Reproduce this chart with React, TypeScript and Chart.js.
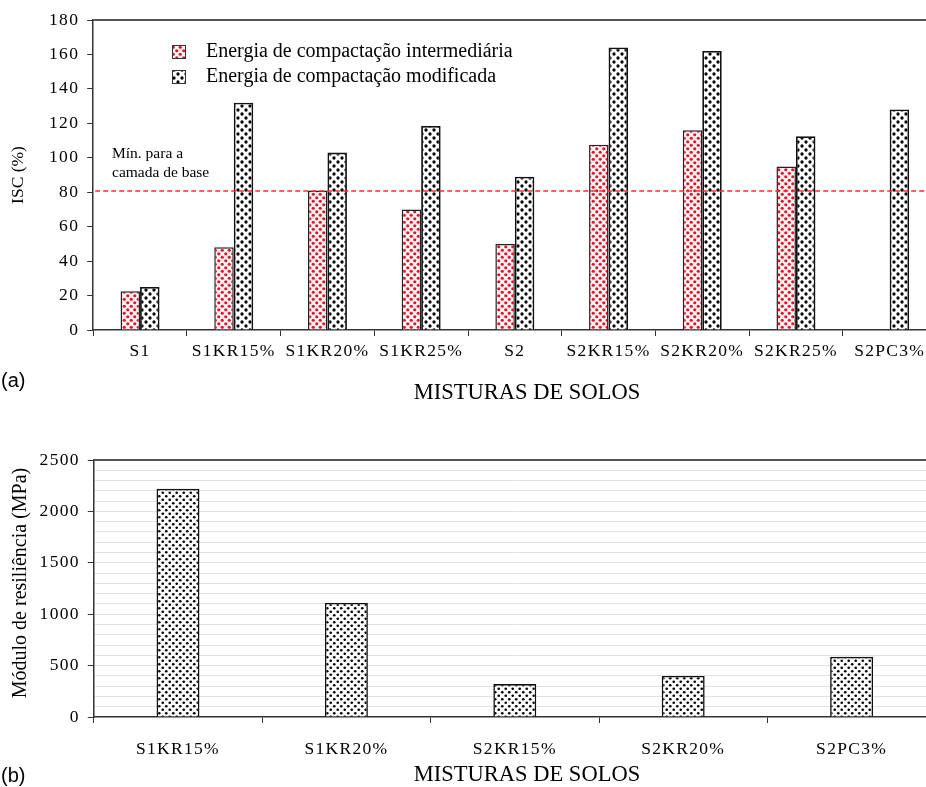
import React, { useEffect, useRef } from 'react';
import { Chart, registerables } from 'chart.js';

Chart.register(...registerables);

// ---------- Data ----------
const categoriesA = ['S1', 'S1KR15%', 'S1KR20%', 'S1KR25%', 'S2', 'S2KR15%', 'S2KR20%', 'S2KR25%', 'S2PC3%'];
const intermediaria: (number | null)[] = [22.5, 48, 81, 70, 50, 107.5, 116, 95, null];
const modificada: number[] = [25, 132, 103, 118.5, 89, 164, 162, 112.5, 128];
const seriesNamesA = ['Energia de compactação intermediária', 'Energia de compactação modificada'];
const minimoBase = 81;
const minimoLabel = ['Mín. para a', 'camada de base'];
const yTitleA = 'ISC (%)';
const xTitle = 'MISTURAS DE SOLOS';
const yMaxA = 180;
const yStepA = 20;

const categoriesB = ['S1KR15%', 'S1KR20%', 'S2KR15%', 'S2KR20%', 'S2PC3%'];
const moduloResiliencia: number[] = [2220, 1110, 320, 400, 585];
const yTitleB = 'Módulo de resiliência (MPa)';
const yMaxB = 2500;
const yGridStepB = 100;
const yLabelStepB = 500;

const SERIF = '"Liberation Serif", "Times New Roman", serif';
const SANS = '"Liberation Sans", Arial, sans-serif';

function makePattern(size: number, bg: string, dot: string, r: number, pts: number[][]) {
  const c = document.createElement('canvas');
  c.width = size;
  c.height = size;
  const g = c.getContext('2d')!;
  g.fillStyle = bg;
  g.fillRect(0, 0, size, size);
  g.fillStyle = dot;
  for (const [x, y] of pts) {
    for (const dx of [-size, 0, size]) {
      for (const dy of [-size, 0, size]) {
        g.beginPath();
        g.arc(x + dx, y + dy, r, 0, Math.PI * 2);
        g.fill();
      }
    }
  }
  return g.createPattern(c, 'repeat') as CanvasPattern;
}

const spacingPlugin = {
  id: 'spacing',
  beforeDraw(chart: any) {
    (chart.ctx as any).letterSpacing = '1.3px';
  },
};

function TopChart() {
  const ref = useRef<HTMLCanvasElement>(null);
  useEffect(() => {
    const redPat = makePattern(7, '#fff2f2', '#e3142a', 1.6, [[1.75, 1.75], [5.25, 5.25]]);
    const blackPat = makePattern(8, '#ffffff', '#050505', 1.65, [[2, 2], [6, 6]]);
    const pats = [redPat, blackPat];

    const overlay = {
      id: 'overlayA',
      afterDraw(chart: any) {
        const ctx = chart.ctx as CanvasRenderingContext2D;
        const area = chart.chartArea;
        const y = chart.scales.y;
        ctx.save();
        (ctx as any).letterSpacing = '0px';
        // top frame line
        ctx.strokeStyle = '#555';
        ctx.lineWidth = 2;
        ctx.beginPath();
        ctx.moveTo(area.left, area.top);
        ctx.lineTo(chart.width, area.top);
        ctx.stroke();
        // dashed min line
        const yy = Math.round(y.getPixelForValue(minimoBase));
        ctx.strokeStyle = '#ff2a2a';
        ctx.lineWidth = 1.5;
        ctx.setLineDash([5, 3]);
        ctx.beginPath();
        ctx.moveTo(area.left + 2, yy);
        ctx.lineTo(chart.width, yy);
        ctx.stroke();
        ctx.setLineDash([]);
        // min label
        ctx.fillStyle = '#000';
        ctx.font = `15.5px ${SERIF}`;
        ctx.textAlign = 'left';
        ctx.textBaseline = 'middle';
        ctx.fillText(minimoLabel[0], 112, 154);
        ctx.fillText(minimoLabel[1], 112, 173);
        // legend
        ctx.font = `20px ${SERIF}`;
        seriesNamesA.forEach((name, i) => {
          const cy = 52 + i * 25;
          ctx.fillStyle = pats[i];
          ctx.fillRect(172, cy - 7, 14, 14);
          ctx.strokeStyle = '#333';
          ctx.lineWidth = 1;
          ctx.strokeRect(172.5, cy - 6.5, 13, 13);
          ctx.fillStyle = '#000';
          ctx.fillText(name, 206, cy);
        });
        // axis titles
        ctx.font = `22.5px ${SERIF}`;
        ctx.textAlign = 'center';
        ctx.fillText(xTitle, 527, 393);
        ctx.save();
        ctx.translate(18, 175);
        ctx.rotate(-Math.PI / 2);
        ctx.font = `17.5px ${SERIF}`;
        ctx.fillText(yTitleA, 0, 0);
        ctx.restore();
        ctx.font = `20px ${SANS}`;
        ctx.textAlign = 'left';
        ctx.fillText('(a)', 1, 381);
        ctx.restore();
      },
    };

    const chart = new Chart(ref.current!, {
      type: 'bar',
      data: {
        labels: categoriesA,
        datasets: [
          { label: seriesNamesA[0], data: intermediaria, backgroundColor: redPat, borderColor: '#222', borderWidth: 1.5 },
          { label: seriesNamesA[1], data: modificada, backgroundColor: blackPat, borderColor: '#111', borderWidth: 1.8 },
        ],
      },
      options: {
        responsive: false,
        animation: false,
        events: [],
        layout: { padding: { left: 0, top: 20, right: 8.5, bottom: 0 } },
        datasets: { bar: { barPercentage: 1, categoryPercentage: 0.416 } },
        plugins: { legend: { display: false }, tooltip: { enabled: false }, title: { display: false } },
        scales: {
          x: {
            offset: true,
            afterFit: (s: any) => { s.height = 70; },
            grid: { display: true, offset: true, drawOnChartArea: false, drawTicks: true, tickLength: 6, color: '#333', lineWidth: 1 },
            border: { display: true, color: '#333', width: 1.5 },
            ticks: { autoSkip: false, maxRotation: 0, minRotation: 0, padding: 5, color: '#000', font: { family: SERIF, size: 17.5 } },
          },
          y: {
            min: 0,
            max: yMaxA,
            afterFit: (s: any) => { s.width = 93.2; },
            grid: { display: true, drawOnChartArea: false, drawTicks: true, tickLength: 6, color: '#333', lineWidth: 1 },
            border: { display: true, color: '#333', width: 1.5 },
            ticks: { stepSize: yStepA, autoSkip: false, padding: 8, color: '#000', font: { family: SERIF, size: 17.5 } },
          },
        },
      },
      plugins: [spacingPlugin, overlay],
    });
    return () => chart.destroy();
  }, []);
  return <canvas ref={ref} width={945} height={400} style={{ display: 'block' }} />;
}

function BottomChart() {
  const ref = useRef<HTMLCanvasElement>(null);
  useEffect(() => {
    const pat = makePattern(7, '#ffffff', '#050505', 1.35, [[1.75, 1.75], [5.25, 5.25]]);
    const overlay = {
      id: 'overlayB',
      afterDraw(chart: any) {
        const ctx = chart.ctx as CanvasRenderingContext2D;
        const area = chart.chartArea;
        ctx.save();
        (ctx as any).letterSpacing = '0px';
        ctx.strokeStyle = '#555';
        ctx.lineWidth = 2;
        ctx.beginPath();
        ctx.moveTo(area.left, area.top);
        ctx.lineTo(chart.width, area.top);
        ctx.stroke();
        ctx.fillStyle = '#000';
        ctx.textBaseline = 'middle';
        ctx.font = `22.5px ${SERIF}`;
        ctx.textAlign = 'center';
        ctx.fillText(xTitle, 527, 375);
        ctx.save();
        ctx.translate(21, 183);
        ctx.rotate(-Math.PI / 2);
        ctx.font = `20px ${SERIF}`;
        ctx.fillText(yTitleB, 0, 0);
        ctx.restore();
        ctx.font = `20px ${SANS}`;
        ctx.textAlign = 'left';
        ctx.fillText('(b)', 1, 376);
        ctx.restore();
      },
    };
    const chart = new Chart(ref.current!, {
      type: 'bar',
      data: {
        labels: categoriesB,
        datasets: [
          { label: yTitleB, data: moduloResiliencia, backgroundColor: pat, borderColor: '#111', borderWidth: 1.6 },
        ],
      },
      options: {
        responsive: false,
        animation: false,
        events: [],
        layout: { padding: { left: 0, top: 60, right: 9.2, bottom: 0 } },
        datasets: { bar: { barPercentage: 1, categoryPercentage: 0.255 } },
        plugins: { legend: { display: false }, tooltip: { enabled: false }, title: { display: false } },
        scales: {
          x: {
            offset: true,
            afterFit: (s: any) => { s.height = 70; },
            grid: { display: true, offset: true, drawOnChartArea: false, drawTicks: true, tickLength: 6, color: '#333', lineWidth: 1 },
            border: { display: true, color: '#333', width: 1.5 },
            ticks: { autoSkip: false, maxRotation: 0, minRotation: 0, padding: 16, color: '#000', font: { family: SERIF, size: 17.5 } },
          },
          y: {
            min: 0,
            max: yMaxB,
            afterFit: (s: any) => { s.width = 93.8; },
            grid: {
              display: true,
              drawOnChartArea: true,
              drawTicks: true,
              tickLength: 6,
              color: (c: any) => (c.tick && c.tick.value === 0 ? 'rgba(0,0,0,0)' : '#e3e3e3'),
              tickColor: (c: any) => (c.tick && c.tick.value % yLabelStepB === 0 ? '#333' : 'rgba(0,0,0,0)'),
              lineWidth: 1,
            },
            border: { display: true, color: '#333', width: 1.5 },
            ticks: {
              stepSize: yGridStepB,
              autoSkip: false,
              padding: 8,
              color: '#000',
              font: { family: SERIF, size: 17.5 },
              callback: (v: any) => (Number(v) % yLabelStepB === 0 ? String(v) : ''),
            },
          },
        },
      },
      plugins: [spacingPlugin, overlay],
    });
    return () => chart.destroy();
  }, []);
  return <canvas ref={ref} width={945} height={387} style={{ display: 'block' }} />;
}

export default function App() {
  return (
    <div style={{ position: 'absolute', left: 0, top: 0, width: 926, height: 787, overflow: 'hidden', background: '#fff' }}>
      <TopChart />
      <BottomChart />
    </div>
  );
}
